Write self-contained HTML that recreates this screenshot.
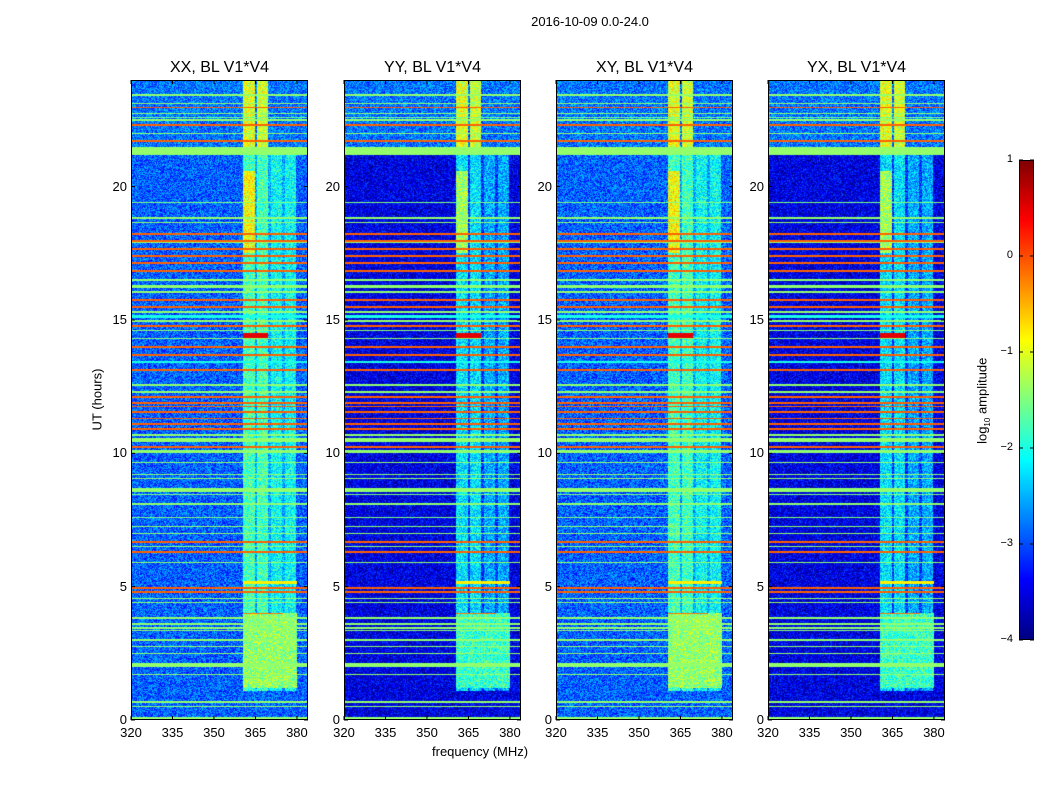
<!DOCTYPE html>
<html><head><meta charset="utf-8"><style>
body{margin:0;background:#fff;font-family:"Liberation Sans",sans-serif;}
#root{position:relative;width:1050px;height:800px;overflow:hidden;background:#fff}
.t{position:absolute;font-size:13px;color:#000;white-space:nowrap}
.ttl{position:absolute;font-size:16px;color:#000;white-space:nowrap;text-align:center;width:177px}
canvas{position:absolute}
</style></head><body>
<div id="root">
<div class="t" style="left:0;width:1180px;text-align:center;top:14px">2016-10-09 0.0-24.0</div>
<div class="t" style="left:432px;top:744px">frequency (MHz)</div>
<div class="t" style="left:66px;top:392px;transform:rotate(-90deg);transform-origin:center">UT (hours)</div>
<div class="t" style="left:940px;top:392px;transform:rotate(-90deg);transform-origin:center">log<sub style="font-size:8px">10</sub> amplitude</div>
<svg id="ov" width="1050" height="800" style="position:absolute;left:0;top:0;z-index:5"></svg>
</div>
<script>
const panelTitles=["XX, BL V1*V4","YY, BL V1*V4","XY, BL V1*V4","YX, BL V1*V4"];
const panelBgLow=[-2.9,-3.5,-2.9,-3.5];
const panelBandOffset=[0,-0.45,0,-0.45];
const xTicks=[320,335,350,365,380];
const yTicks=[0,5,10,15,20];
const cbTicks=[1,0,-1,-2,-3,-4];
const lineHours=[23.43,23.13,22.96,22.76,22.6,22.5,22.31,22.0,21.71,21.34,19.39,18.82,18.67,18.22,17.96,17.89,17.66,17.4,17.14,16.84,16.5,16.25,16.05,15.75,15.49,15.3,15.13,14.96,14.77,14.62,14.29,13.99,13.69,13.42,13.12,12.56,12.3,12.11,11.89,11.77,11.55,11.29,11.1,10.91,10.69,10.5,10.24,10.07,9.64,9.22,9.07,8.62,8.44,8.1,7.61,7.24,7.01,6.67,6.49,6.3,5.89,4.95,4.8,4.57,4.39,3.82,3.6,3.45,3.34,3.0,2.74,2.51,2.06,1.69,0.67,0.49,0.06];
const lineWidths=[0.07,0.05,0.05,0.04,0.04,0.04,0.05,0.05,0.1,0.27,0.04,0.05,0.04,0.06,0.05,0.04,0.05,0.06,0.05,0.06,0.05,0.12,0.05,0.06,0.05,0.04,0.12,0.05,0.1,0.04,0.04,0.05,0.05,0.08,0.05,0.05,0.05,0.05,0.05,0.04,0.04,0.04,0.04,0.05,0.05,0.15,0.05,0.14,0.04,0.04,0.04,0.15,0.04,0.04,0.04,0.04,0.04,0.05,0.04,0.05,0.04,0.06,0.06,0.04,0.04,0.05,0.04,0.04,0.04,0.04,0.04,0.04,0.15,0.04,0.05,0.04,0.12];
const lineLevels=[-1.4,-1.4,-0.1,-1.4,-1.6,-1.4,-0.1,-1.4,-0.1,-1.4,-1.5,-1.4,-1.4,-0.1,-0.1,-1.4,-0.1,-0.1,-0.1,-0.1,-1.4,-1.4,-1.4,-0.1,-0.1,-1.4,-2.0,-1.4,-0.1,-1.4,-1.4,-0.1,-0.1,-2.0,-0.1,-1.4,-1.4,-0.1,-0.1,-0.1,-0.1,-0.1,-0.1,-0.1,-1.4,-1.4,-0.1,-1.4,-1.4,-1.4,-1.4,-1.4,-1.5,-1.4,-1.5,-1.4,-1.4,-0.1,-1.4,-0.1,-1.4,-0.1,-0.1,-1.4,-1.4,-1.4,-1.4,-1.4,-1.4,-1.4,-1.4,-1.4,-1.4,-1.4,-1.4,-1.4,-1.4];
const bandStart=[360.4,365.6,370.8,375.8];
const bandEnd=[364.7,369.6,374.7,379.8];
const bandLevel=[-1.8,-1.8,-2.1,-2.1];
const boostH0=[17.5,1.2,21.5,21.5];
const boostH1=[20.6,4.0,24,24];
const boostF0=[360.4,360.4,360.4,365.6];
const boostF1=[364.7,380,364.7,369.6];
const boostLevel=[-0.9,-1.4,-1.0,-1.1];
const featHour=[5.15,14.4,4.0];
const featWidth=[0.1,0.2,0.06];
const featF0=[360.4,360.4,360.4];
const featF1=[380,369.6,375];
const featLevel=[-0.8,0.5,-0.2];

const PX=[131,344,556,768],PY=80,PW=177,PH=640,F0=320,F1=384,H0=0,H1=24;
function xs(f,p){return PX[p]+(f-F0)/(F1-F0)*PW;}
function ys(h){return PY+PH-(h-H0)/(H1-H0)*PH;}
function jet(t){t=Math.max(0,Math.min(1,t));
 const c=(x)=>Math.max(0,Math.min(1,x));
 const r=c(Math.min(4*t-1.5,-4*t+4.5)),g=c(Math.min(4*t-0.5,-4*t+3.5)),b=c(Math.min(4*t+0.5,-4*t+2.5));
 return [r*255|0,g*255|0,b*255|0];}
function lv(v){return jet((v+4)/5);}
function hash(x,y){let n=(x*374761393+y*668265263)|0;n=(n^(n>>>13))*1274126177|0;return ((n^(n>>>16))>>>0)/4294967296;}
const root=document.getElementById('root');
const ov=document.getElementById('ov');
const NS="http://www.w3.org/2000/svg";
for(let p=0;p<4;p++){
 const cv=document.createElement('canvas');
 cv.width=PW;cv.height=PH;cv.style.left=PX[p]+'px';cv.style.top=PY+'px';
 
 
 root.appendChild(cv);
 const ctx=cv.getContext('2d');const img=ctx.createImageData(PW,PH);
 for(let y=0;y<PH;y++){
  const h=H1-(y+0.5)/PH*(H1-H0);
  for(let x=0;x<PW;x++){
   const f=F0+(x+0.5)/PW*(F1-F0);
   let v=(h>21.5)?-2.8:panelBgLow[p];
   if(h>=1.1&&h<21.2){
    if(f>=bandStart[0]&&f<bandEnd[bandEnd.length-1]) v+=0.4;
    for(let b=0;b<bandStart.length;b++) if(f>=bandStart[b]&&f<bandEnd[b]) v=bandLevel[b]+panelBandOffset[p];
   }
   for(let b=0;b<boostH0.length;b++) if(h>=boostH0[b]&&h<boostH1[b]&&f>=boostF0[b]&&f<boostF1[b]) v=boostLevel[b]+(h<21.2?panelBandOffset[p]:0);
   v+=(hash(x+p*1000,y)-0.5)*1.0;
   for(let k=0;k<featHour.length;k++) if(Math.abs(h-featHour[k])<featWidth[k]/2&&f>=featF0[k]&&f<featF1[k]) v=featLevel[k];
   for(let k=0;k<lineHours.length;k++) if(Math.abs(h-lineHours[k])<Math.max(lineWidths[k],0.04)/2){v=lineLevels[k];break;}
   const c=lv(v),i=(y*PW+x)*4;img.data[i]=c[0];img.data[i+1]=c[1];img.data[i+2]=c[2];img.data[i+3]=255;
  }
 }
 ctx.putImageData(img,0,0);
 const fr=document.createElementNS(NS,'rect');
 fr.setAttribute('x',PX[p]+0.5);fr.setAttribute('y',PY+0.5);fr.setAttribute('width',PW-1);fr.setAttribute('height',PH-1);
 fr.setAttribute('fill','none');fr.setAttribute('stroke','#000');
 
 
 ov.appendChild(fr);
 const tt=document.createElement('div');tt.className='ttl';tt.style.left=PX[p]+'px';tt.style.top='59px';tt.textContent=panelTitles[p];
 
 
 root.appendChild(tt);
 xTicks.forEach(f=>{const x=xs(f,p);
  const l=document.createElementNS(NS,'path');l.setAttribute('d',`M${x} ${PY+PH}v-4M${x} ${PY}v4`);l.setAttribute('stroke','#000');
  
  
  ov.appendChild(l);
  const d=document.createElement('div');d.className='t';d.style.left=(x-20)+'px';d.style.width='40px';d.style.textAlign='center';d.style.top=(PY+PH+5)+'px';d.textContent=f;
  
  
  root.appendChild(d);});
 yTicks.forEach(h=>{const y=ys(h);
  const l=document.createElementNS(NS,'path');l.setAttribute('d',`M${PX[p]} ${y}h4M${PX[p]+PW} ${y}h-4`);l.setAttribute('stroke','#000');
  
  
  ov.appendChild(l);
  const d=document.createElement('div');d.className='t';d.style.left=(PX[p]-44)+'px';d.style.width='40px';d.style.textAlign='right';d.style.top=(y-8)+'px';d.textContent=h;
  
  
  root.appendChild(d);});
}
// colorbar
const CBX=1019,CBY=160,CBW=15,CBH=480;
const cb=document.createElement('canvas');cb.width=CBW;cb.height=CBH;cb.style.left=CBX+'px';cb.style.top=CBY+'px';


root.appendChild(cb);
const cctx=cb.getContext('2d');
for(let y=0;y<CBH;y++){const c=jet(1-(y+0.5)/CBH);cctx.fillStyle=`rgb(${c[0]},${c[1]},${c[2]})`;cctx.fillRect(0,y,CBW,1);}
const cbf=document.createElementNS(NS,'rect');cbf.setAttribute('x',CBX+0.5);cbf.setAttribute('y',CBY+0.5);cbf.setAttribute('width',CBW-1);cbf.setAttribute('height',CBH-1);cbf.setAttribute('fill','none');cbf.setAttribute('stroke','#000');


ov.appendChild(cbf);
cbTicks.forEach(v=>{const y=CBY+(1-v)/5*CBH;
 const l=document.createElementNS(NS,'path');l.setAttribute('d',`M${CBX} ${y}h4M${CBX+CBW} ${y}h-4`);l.setAttribute('stroke','#000');
 
 
 ov.appendChild(l);
 const d=document.createElement('div');d.className='t';d.style.fontSize='11px';d.style.left=(CBX-46)+'px';d.style.width='40px';d.style.textAlign='right';d.style.top=(y-7)+'px';d.textContent=v<0?'\u2212'+(-v):String(v);
 
 
 root.appendChild(d);});
</script>
</body></html>
